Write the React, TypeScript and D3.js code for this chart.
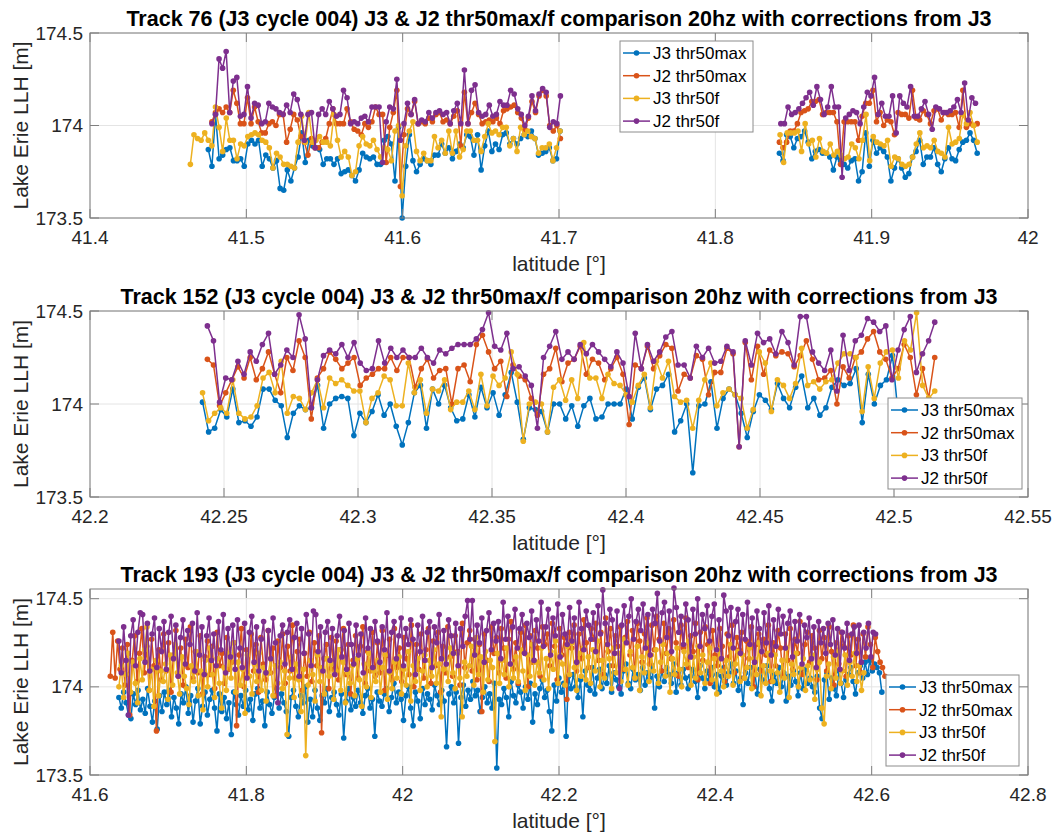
import React from "react";
import * as d3 from "d3";

const seriesNames = ["J3 thr50max", "J2 thr50max", "J3 thr50f", "J2 thr50f"];
const seriesColors = ["#0072BD", "#D95319", "#EDB120", "#7E2F8E"];

// Heights are stored in centimetres relative to 174 m.
const toMetres = (c: number) => 174 + c / 100;

// ---------------- Track 76 ----------------
const t76XTicks = [41.4, 41.5, 41.6, 41.7, 41.8, 41.9, 42];
const t76YTicks = [173.5, 174, 174.5];
// [start, end] latitude of each pass segment, per series
const t76Span_j3max = [[41.4757, 41.7007], [41.841, 41.9675]];
const t76Span_j2max = [[41.478, 41.7009], [41.841, 41.9675]];
const t76Span_j3f = [[41.4642, 41.7007], [41.8414, 41.9675]];
const t76Span_j2f = [[41.478, 41.7009], [41.8419, 41.9664]];

const t76_j3max_a = [
  -13, -22, 6, -18, -16, -13, -12, -19, -19, -18, -22, -10, -8, -10, -8, -22, -16, -18, -23, -19,
  -34, -35, -24, -30, -23, -17, -4, -20, -8, -11, -12, -13, -21, -18, -18, -21, -18, -26, -25, -24,
  -27, -30, -24, -15, -17, -18, -17, -21, -21, -8, -6, -10, -30, -1, -50,
  -22, -5, -19, -25, -21, -18, -19, -21, -16, -16, -10, -15, -12, -18, -14, -10, -12, -5, -6, -16,
  -5, -24, -11, -3, -14, -10, -13, -5, -4, -10, -7, -10, -7, -5, -6, -3, -7, -16, -15, -14,
  -12, -19, -18, -3,
];
const t76_j3max_b = [
  -15, -19, -5, -6, -12, -7, -6, -3, -9, -18, -14, -13, -15, -15, -17, -24, -17, -19, -21, -23,
  -19, -18, -30, -25, -4, -22, -8, -15, -12, -14, -17, -30, -23, -18, -23, -28, -26, -17, -14, -8,
  -21, -17, -17, -12, -21, -25, -18, -12, -18, -19, -13, -9, -8, -4, -8, -15,
];
const t76_j2max_a = [
  2, 7, 9, 7, 10, 7, 19, 12, 1, 1, 15, 1, 10, 2, -4, -4, 1, 2, 0, 6,
  6, -9, -2, 6, 3, -6, -9, -16, -7, -12, -12, -9, -7, 1, 9, 1, 1, 1, 9, 2,
  -2, -3, -5, 1, -1, 2, 10, 6, 6, -20, -1, 7, 19, -33,
  -5, 9, 6, 13, 1, 2, 1, 4, 2, 6, 7, 2, 3, 1, 5, 8, -11, 18, 1, 7,
  12, 6, 1, 2, 3, 2, 4, 1, 8, 9, 10, 11, 7, 4, -2, 4, 13, 7, 16, 19,
  16, 0, -3, 0, -7,
];
const t76_j2max_b = [
  -9, -12, -9, -3, -3, 1, 7, 8, 9, 13, 13, 14, 6, 7, 7, 7, 2, -21, 2, 2,
  2, 2, -8, 5, 12, 12, 19, 2, 7, 0, 3, 2, -5, 7, 6, 6, 4, 19, 4, 3,
  8, 6, 1, 8, 9, 3, 7, 6, 6, 7, -1, 19, -1, 1, 0, 1,
];
const t76_j3f_a = [
  -21, -5, -7, -8, -4, -8, -11, 10, -1, -14, 4, -8, -8, -18, -10, -11, -6, -5, -4, -5,
  -8, -9, -12, -23, -15, -17, -21, -21, -22, -23, -9, 5, -9, 7, -9, -8, -6, -9, -9, -11,
  6, -8, -17, -14, -17, -27, -25, -11, -6, -10, -11, -8, -13, -17, -12, -13, -19, -3, 0, -38,
  -11, -3, 2, -14, -19, -15, -19, -19, -6, -12, -8, -15, -3, -15, -3, -17, -13, -3, -3, -8,
  -8, -14, -6, 1, -4, -3, -5, -1, -1, -11, -7, -14, -1, -5, -3, -6, -7, -15, -12, -12,
  -10, -19, -12, -3,
];
const t76_j3f_b = [
  -5, -20, -4, -4, -4, -3, -14, 1, -10, -8, -17, -7, -14, -15, -10, -16, -14, -16, -18, -17,
  -10, -12, -18, -8, 6, -19, -6, -9, -10, -11, -8, -22, -17, -18, -21, -22, -21, -17, -10, -4,
  -12, -11, -12, -8, -14, -15, -17, -1, -10, -9, -7, 6, 1, 7, 0, -9,
];
const t76_j2f_a = [
  1, 6, 36, 31, 40, 7, 24, 26, 5, 6, 21, 4, 12, 11, 1, 2, 12, 10, 9, 7,
  6, 11, 7, 17, 14, 6, -8, 6, 7, -12, 6, 9, 6, 13, 9, 5, 6, 19, 15, 1,
  2, 1, 4, 5, 2, 10, 10, 10, -20, 2, 10, 9, 25, -8,
  1, 12, 6, 14, 1, 3, 2, 7, 4, 7, 8, 6, 7, 1, 8, 12, 1, 30, 1, 19,
  22, 7, 5, 6, 11, 5, 6, 13, 11, 11, 19, 17, 9, 6, 0, 5, 16, 8, 17, 20,
  18, -1, 2, 1, 16,
];
const t76_j2f_b = [
  1, 1, 10, 6, 7, 9, 12, 15, 18, 11, 21, 14, 6, 10, 21, 10, 10, -28, 4, 6,
  8, 7, 1, 10, 18, 16, 26, 6, 12, 5, 5, 16, -4, 16, 12, 10, 21, 5, 5, 9,
  13, 6, -2, 10, 9, 7, 7, 8, 10, 14, 7, 23, 3, 15, 12,
];

// ---------------- Track 152 ----------------
const t152XTicks = [42.2, 42.25, 42.3, 42.35, 42.4, 42.45, 42.5, 42.55];
const t152YTicks = [173.5, 174, 174.5];
const t152Span_j3max = [42.242, 42.5017];
const t152Span_j2max = [42.2438, 42.5152];
const t152Span_j3f = [42.242, 42.5152];
const t152Span_j2f = [42.2438, 42.5152];

const t152_j3max = [
  1, -15, -13, -3, -7, 8, -10, -9, -12, -7, 8, 8, 2, -1, -18, -5, -1, -3, -2, 10,
  -13, 0, 3, 4, 3, -17, -5, -10, -4, 5, -6, 0, -12, -22, -10, 6, 10, -13, 8, 0,
  10, -2, -9, -8, 5, -7,
  9, -2, 6, -6, 5, 17, 1, -19, -2, -3, -4, -15, 0, 0, -8, -1, -12, -1, 3, -8,
  -7, 0, 0, 0, 8, -8, 9, 14, -3, 8, 10, 16, -15, -9, 0, -37, -1, 0, 12, -13,
  3, 8, 5, -5, -18, -4, 5, 2,
  -3, 11, 3, -2, 9, 15, -2, 3, -6, -2, 9, 13, 10, 11, 19, -10, 16, 0, 10, 13,
  26, -8,
];
const t152_j2max = [
  24, 21, -1, 6, 13, 20, 14, 25, 13, 19, 28, 16, 6, 25, 18, 34, 25, -8, 14, 19,
  28, 24, 19, 22, 25, 10, 14, 16, 19, 19, 25, 18, 25, 25, 9, 19, 24, 14, 18, 19,
  0, 19, 21, 12, 32,
  37, 28, 19, 23, 4, 21, 15, 13, 3, -6, 16, 19, 30, 12, 22, 24, 31, 16, 24, 22,
  13, 19, 25, 16, -11, 21, 19, 31, 19, 26, 32, 30, 7, 16, 14, 26, 24, 5, 17, 17,
  30, 27, -23, 33, 13, 31, 16, 29,
  26, 28, 27, 20, 26, 34, 24, 13, 14, 18, 0, 20, 14, 25, 28, 35, 39, 28, 24, 14,
  19, 32, 25, 5, 19, 3, 25,
];
const t152_j3f = [
  6, -9, -5, -2, -5, 13, -5, -8, -7, -1, 14, 17, 6, 23, -5, 4, 3, -3, 6, 13,
  -2, 14, 11, 13, 10, 7, 7, -10, 3, 6, 15, 13, -1, -1, 22, 6, 13, -5, 8, 7,
  13, -3, 1, 1, 7, -3,
  16, -1, 15, 10, 14, 28, 16, -20, 0, 1, 0, -15, 9, 13, 2, 13, 3, 33, 14, 14,
  3, 16, 11, 10, 5, 1, 10, 16, -2, 23, 14, 23, 4, 1, 2, -13, 2, 13, 22, -1,
  6, 8, 5, 3, -13, -3, 28, 22,
  -4, 13, 10, 3, 11, 30, 10, 12, 8, 12, 13, 22, 27, 27, 25, -4, 20, 3, 22, 28,
  29, 14, 34, 29, 49, 10, 3, 7,
];
const t152_j2f = [
  42, 34, 1, 14, 13, 23, 16, 28, 23, 32, 38, 16, 21, 29, 25, 48, 35, -2, 13, 26,
  29, 27, 32, 25, 33, 22, 18, 19, 34, 22, 30, 25, 29, 25, 25, 30, 25, 22, 29, 27,
  30, 32, 32, 32, 35,
  40, 49, 31, 29, 38, 19, 20, 15, 10, -13, 25, 31, 39, 24, 28, 24, 32, 27, 32, 28,
  24, 20, 28, 22, 4, 38, 19, 32, 23, 28, 36, 39, 21, 21, 14, 31, 25, 30, 22, 23,
  31, 28, -23, 34, 21, 38, 33, 35,
  27, 39, 33, 21, 47, 47, 28, 22, 18, 29, 7, 37, 18, 34, 37, 46, 44, 39, 42, 13,
  29, 40, 47, 17, 27, 34, 44,
];

// ---------------- Track 193 ----------------
const t193XTicks = [41.6, 41.8, 42, 42.2, 42.4, 42.6, 42.8];
const t193YTicks = [173.5, 174, 174.5];
const t193Span_j3max = [41.637, 42.613];
const t193Span_j2max = [41.626, 42.617];
const t193Span_j3f = [41.637, 42.59];
const t193Span_j2f = [41.637, 42.605];

const t193_j3max = [
  -6, -12, -3, -9, -16, -18, -4, -10, -2, -13, -7, -15, -1, -11, -20, -8, -24, -5, -14, -3,
  -10, -2, -17, -6, -12, -21, -4, -9, 0, -15, -5, -20, -8, -1, -21, -11, -3, -16, -7, -2,
  -12, -25, -4, -14, -6, -18, -9, -27, -3, -10, -16, -5, -11, -2, -13, -7, -19, -4, -1, -12,
  -8, -22, -3, -10, -15, -6, -1, -12, -4, -9, -14, -28, -6, -2, -11, -17, -5, -9, 0, -20,
  -7, -17, -2, -12, -19, -5, -9, -1, -14, -6, -3, -10, -16, -4, -29, -8, -1, -13, -6, -11,
  -2, -9, -15, -5, -1, -12, -7, -28, -3, -8, -11, -4, -1, -14, -6, 2, -9, -3, -7, -19,
  -5, 0, -12, -22, -3, -8, -18, -1, -10, -4, -7, -13, 1, -5, -10, -2, -8, -34, -4, 0,
  -9, -3, -32, -6, 1, -11, -2, -7, 3, -5, -2, -14, -6, 0, -9, -4, -12, 2, -46, -7,
  -10, -1, -6, -17, 3, -5, -9, 1, -3, -12, 0, -7, 2, -20, -4, -10, -1, 4, -6, -2,
  -14, -25, 1, -8, 5, -3, 2, -28, 6, -1, 7, 0, -6, 4, -17, 9, 1, -2, 11, -4,
  5, 10, -1, 7, 2, 12, -3, 8, 4, 0, -4, 9, 13, 2, -1, 10, 4, 7, -2, 11,
  1, 8, 5, 12, -12, 6, 0, 9, 3, 11, 7, 2, 13, -3, 8, 1, 10, 5, -1, 6,
  10, 3, -6, 12, 5, -1, 9, 4, 11, 0, 7, -3, 6, 11, 1, 8, 13, 2, 9, -2,
  5, -10, 8, 2, 11, 0, 7, -4, 10, 4, 3, 12, -1, -8, 7, 2, 11, 0, 8, -8,
  6, 1, 9, 3, -5, 8, -1, 10, 2, 5, 0, -3, 6, -12, -18, 4, 8, -7, 5, -1,
  -5, 9, 2, -6, 4, 7, 11, 3, -4, 8, 12, 5, 14, 7, 15, 9, 13, 11, 8, -3,
];
const t193_j3f = [
  0, 12, -6, 7, 19, -3, 14, 2, -9, 16, 4, 21, 34, -2, 10, -11, 15, -5, 9, 3,
  13, -7, 18, 1, 24, 8, -4, 17, 6, -1, -10, 12, 3, 20, -5, 9, -13, 15, 0, 22,
  7, -6, 16, 2, -12, 11, -2, 19, 5, 25, -3, 14, 1, 10, -15, 18, 6, -4, 13, 3,
  19, -2, 11, -8, 8, 16, -5, 12, 2, 14, -1, 9, -27, 5, 17, -6, 13, 4, -14, 10,
  -39, 1, 15, 7, -8, 18, 3, 11, -4, 16, 6, 13, -7, 9, 21, -2, 14, -9, 8, 2,
  12, -5, 16, 4, -11, 13, 0, 19, -6, 9, 3, 15, -3, 11, 18, -7, 8, -1, 14, 5,
  17, -4, 10, 1, 20, -8, 12, 3, 16, -2, 9, 18, 0, 15, 6, 21, 2, 13, -17, 10,
  16, 3, 22, 8, -1, 19, 5, -17, 14, 6, 12, 23, 1, 28, 7, 17, -3, 20, 4, 15,
  11, -31, 19, 2, 15, 7, 22, 0, 13, 5, 17, 3, 21, 9, -2, 18, 6, 24, 1, 14,
  8, 22, 4, 16, -1, 20, 10, 26, 2, 18, 13, 1, 23, 7, 25, 11, -2, 19, 6, 22,
  4, 17, 2, 21, 9, 26, 0, 15, 5, 24, 16, -1, 22, 8, 19, 3, 27, 10, 1, 20,
  11, 5, 23, -2, 17, 8, 25, 3, 18, 9, 21, 2, 14, 24, 6, 19, -3, 16, 7, 22,
  10, 0, 20, 13, 26, 1, 17, 5, 23, 8, 18, 2, 14, 22, 4, 16, -4, 21, 9, 0,
  15, 6, 24, 1, 13, 20, 3, 18, 5, 11, 22, -1, 16, 7, 25, -5, 12, 2, 19, 9,
  3, 18, 8, -3, 15, 5, 22, -6, 13, 7, 19, 0, 11, 16, -2, 12, 4, 18, -7, 10,
  14, -12, -21, 6, 13, -1, 17, 5, 20, 2, 9, 18, 1, 14, 6, 19, 3, 12, -2, 8,
];
const t193_j2max = [
  6, 31, 5, 26, 10, 22, 1, 24, -16, 15, 29, 3, 19, 33, 8, 23, -2, 27, 12, -25,
  21, 4, 30, 9, 25, -3, 18, 32, 6, 22, 1, 27, 11, 34, 5, 20, 8, 29, -4, 17,
  26, 7, 23, -1, 31, 12, 19, 2, 28, 10, 14, 25, -22, 18, 33, 0, 21, 6, 30, 9,
  24, -3, 28, 13, 4, 32, 8, 22, -5, 26, 11, 30, 2, 23, 9, 35, 5, 20, 27, -2,
  19, 6, 31, 3, 25, 12, 29, -26, 16, 24, -1, 28, 10, 26, 4, 21, 33, 7, 24, -4,
  15, 29, 5, 23, 34, 2, 20, 9, 31, 6, 25, 8, 32, -2, 18, 27, 4, 33, 11, 22,
  3, 28, 16, 7, 35, 0, 24, 10, 30, 5, 21, 33, 2, 26, 12, 31, -3, 23, 8, 34,
  17, 6, 29, 20, 1, 36, 11, 25, 32, 9, 27, 4, 24, -14, 30, 15, 3, 34, 19, 28,
  8, 33, 22, 5, 27, 37, 10, 25, 2, 31, 20, 35, 0, 29, 14, 32, 22, 6, 34, 24,
  30, 12, 36, 23, 4, 33, 18, 28, -7, 31, 22, 35, 9, 30, 16, 38, 25, 11, 33, 27,
  36, 15, 31, 7, 39, 20, 33, 12, 29, 23, 34, 10, 28, 37, 18, 32, 5, 36, 26, 14,
  30, 39, 13, 35, 21, 40, 27, 9, 36, 19, 33, 16, 38, 25, 6, 35, 22, 39, 11, 29,
  20, 36, 4, 31, 15, 34, 24, 2, 32, 18, 12, 33, 23, 3, 30, 17, 35, 8, 28, 21,
  31, 5, 26, 16, 34, 0, 24, 30, 9, 27, 18, 35, 3, 25, 12, 32, 22, 6, 30, 15,
  33, 10, 27, 19, 37, 7, 24, 31, 14, 29, 22, 4, 32, 16, 28, 9, 34, 20, 1, 25,
  13, 31, 23, 6, 29, 18, 35, 12, 27, 8, 30, 17, 34, 24, 11, 28, 20, 14, 11, 6,
];
const t193_j2f = [
  26, 8, 34, 15, -16, 29, 38, 12, 31, 42, 41, 14, 36, 9, 30, 39, 11, 33, 20, 37,
  10, 31, 40, 16, 35, 6, 28, 38, 13, 32, 24, 36, 9, 42, 18, 34, 7, 29, 39, 15,
  30, 12, 37, 21, 41, 8, 33, 17, 35, 10, 38, 22, 11, 36, 5, 31, 40, 14, 34, 9,
  27, 37, 8, 32, 16, 39, 25, -9, 29, 35, 13, 31, 38, 10, 28, 36, 6, 33, 19, 41,
  30, 12, 43, 41, 20, 34, 9, 31, 37, 15, 33, 7, 29, 40, 17, 32, 10, 36, 24, 13,
  35, 18, 30, 8, 39, 22, 33, 11, 37, 26, 14, 34, 21, 42, 9, 31, 37, 16, 29, 39,
  12, 33, 24, 38, 27, 7, 35, 20, 40, 15, 31, 37, 11, 34, 25, 41, 16, 32, 13, 38,
  29, 19, 36, 12, 33, 23, 40, 49, 27, 49, 18, 35, 25, 39, 14, 32, 42, 21, 36, 26,
  37, 16, 48, 27, 40, 13, 34, 44, 22, 33, 41, 19, 36, 28, 43, 15, 38, 26, 48, 23,
  34, 44, 18, 39, 29, 47, 17, 41, 30, 24, 45, 26, 39, 14, 48, 33, 21, 43, 35, 27,
  42, 20, 46, 30, 55, 36, 24, 44, 38, 19, 43, -1, 35, 46, 25, 40, 50, 27, 37, 44,
  32, 47, 22, 41, 18, 44, 36, 53, 26, 42, 48, 28, 43, 20, 56, 45, 31, 40, 24, 47,
  38, 17, 44, 30, 50, 23, 41, 33, 46, 26, 40, 47, 21, 38, 16, 52, 43, 29, 45, 22,
  37, 44, 19, 41, 27, 48, 24, 39, 14, 43, 33, 20, 42, 25, 46, 18, 38, 23, 44, 30,
  40, 22, 36, 43, 17, 37, 26, 41, 13, 35, 28, 39, 16, 34, 11, 37, 25, 33, 19, 36,
  24, 38, 18, 33, 10, 31, 22, 36, 15, 30, 34, 19, 35, 14, 31, 22, 36, 17, 31, 30,
];

// ---------------- assembly ----------------
type Segment = { span: number[]; values: number[] };

const tracks = [
  {
    title: "Track 76 (J3 cycle 004) J3 & J2 thr50max/f comparison 20hz with corrections from J3",
    xDomain: [41.4, 42],
    yDomain: [173.5, 174.5],
    xTicks: t76XTicks,
    yTicks: t76YTicks,
    series: [
      [{ span: t76Span_j3max[0], values: t76_j3max_a }, { span: t76Span_j3max[1], values: t76_j3max_b }],
      [{ span: t76Span_j2max[0], values: t76_j2max_a }, { span: t76Span_j2max[1], values: t76_j2max_b }],
      [{ span: t76Span_j3f[0], values: t76_j3f_a }, { span: t76Span_j3f[1], values: t76_j3f_b }],
      [{ span: t76Span_j2f[0], values: t76_j2f_a }, { span: t76Span_j2f[1], values: t76_j2f_b }],
    ] as Segment[][],
  },
  {
    title: "Track 152 (J3 cycle 004) J3 & J2 thr50max/f comparison 20hz with corrections from J3",
    xDomain: [42.2, 42.55],
    yDomain: [173.5, 174.5],
    xTicks: t152XTicks,
    yTicks: t152YTicks,
    series: [
      [{ span: t152Span_j3max, values: t152_j3max }],
      [{ span: t152Span_j2max, values: t152_j2max }],
      [{ span: t152Span_j3f, values: t152_j3f }],
      [{ span: t152Span_j2f, values: t152_j2f }],
    ] as Segment[][],
  },
  {
    title: "Track 193 (J3 cycle 004) J3 & J2 thr50max/f comparison 20hz with corrections from J3",
    xDomain: [41.6, 42.8],
    yDomain: [173.5, 174.555],
    xTicks: t193XTicks,
    yTicks: t193YTicks,
    series: [
      [{ span: t193Span_j3max, values: t193_j3max }],
      [{ span: t193Span_j2max, values: t193_j2max }],
      [{ span: t193Span_j3f, values: t193_j3f }],
      [{ span: t193Span_j2f, values: t193_j2f }],
    ] as Segment[][],
  },
];

// ---------------- layout ----------------
const W = 1054;
const H = 834;
const AX_LEFT = 90;
const AX_RIGHT = 1028;
const panelBoxes = [
  { top: 33, bottom: 218 },
  { top: 311, bottom: 497 },
  { top: 589, bottom: 775 },
];
const legendBoxes = [
  { x: 620, y: 41, w: 133, h: 91 },
  { x: 888, y: 398, w: 134, h: 91 },
  { x: 886, y: 675, w: 133, h: 91 },
];
const FONT = "'Liberation Sans', Arial, Helvetica, sans-serif";
const TEXT = "#262626";
const AXIS = "#7f7f7f";
const GRID = "#e4e4e4";
const TICK_LEN = 9;
const LINE_W = 1.5;
const DOT_R = 2.8;

function segmentPoints(seg: Segment): [number, number][] {
  const n = seg.values.length;
  const [a, b] = seg.span;
  return seg.values.map((v, i) => [a + ((b - a) * i) / (n - 1), toMetres(v)]);
}

const fmt = (v: number) => String(Math.round(v * 1000) / 1000);

function Panel({ idx }: { idx: number }) {
  const tr = tracks[idx];
  const box = panelBoxes[idx];
  const lg = legendBoxes[idx];
  const x = d3.scaleLinear().domain(tr.xDomain).range([AX_LEFT, AX_RIGHT]);
  const y = d3.scaleLinear().domain(tr.yDomain).range([box.bottom, box.top]);
  const line = d3
    .line<[number, number]>()
    .x((d) => x(d[0]))
    .y((d) => y(d[1]));
  const midX = (AX_LEFT + AX_RIGHT) / 2;
  const midY = (box.top + box.bottom) / 2;

  return (
    <g>
      {/* grid */}
      {tr.xTicks.map((t) => (
        <line key={"gx" + t} x1={x(t)} x2={x(t)} y1={box.top} y2={box.bottom} stroke={GRID} strokeWidth={1} />
      ))}
      {tr.yTicks.map((t) => (
        <line key={"gy" + t} x1={AX_LEFT} x2={AX_RIGHT} y1={y(t)} y2={y(t)} stroke={GRID} strokeWidth={1} />
      ))}

      {/* data */}
      {tr.series.map((segs, si) => (
        <g key={"s" + si}>
          {segs.map((seg, gi) => {
            const pts = segmentPoints(seg);
            return (
              <g key={gi}>
                <path d={line(pts) || ""} fill="none" stroke={seriesColors[si]} strokeWidth={LINE_W} strokeLinejoin="round" />
                {pts.map((p, pi) => (
                  <circle key={pi} cx={x(p[0])} cy={y(p[1])} r={DOT_R} fill={seriesColors[si]} />
                ))}
              </g>
            );
          })}
        </g>
      ))}

      {/* axes box */}
      <rect x={AX_LEFT} y={box.top} width={AX_RIGHT - AX_LEFT} height={box.bottom - box.top} fill="none" stroke={AXIS} strokeWidth={1} />
      {tr.xTicks.map((t) => (
        <g key={"tx" + t}>
          <line x1={x(t)} x2={x(t)} y1={box.bottom} y2={box.bottom - TICK_LEN} stroke={AXIS} />
          <line x1={x(t)} x2={x(t)} y1={box.top} y2={box.top + TICK_LEN} stroke={AXIS} />
          <text x={x(t)} y={box.bottom + 26} textAnchor="middle" fontSize={19} fill={TEXT} fontFamily={FONT}>
            {fmt(t)}
          </text>
        </g>
      ))}
      {tr.yTicks.map((t) => (
        <g key={"ty" + t}>
          <line x1={AX_LEFT} x2={AX_LEFT + TICK_LEN} y1={y(t)} y2={y(t)} stroke={AXIS} />
          <line x1={AX_RIGHT} x2={AX_RIGHT - TICK_LEN} y1={y(t)} y2={y(t)} stroke={AXIS} />
          <text x={AX_LEFT - 7} y={y(t) + 6.5} textAnchor="end" fontSize={19} fill={TEXT} fontFamily={FONT}>
            {fmt(t)}
          </text>
        </g>
      ))}

      {/* labels */}
      <text x={midX} y={box.top - 7.5} textAnchor="middle" fontSize={21.5} fontWeight="bold" fill="#000" fontFamily={FONT}>
        {tr.title}
      </text>
      <text x={midX} y={box.bottom + 53} textAnchor="middle" fontSize={21} fill={TEXT} fontFamily={FONT}>
        latitude [°]
      </text>
      <text
        transform={`translate(27.5, ${midY}) rotate(-90)`}
        textAnchor="middle"
        fontSize={21}
        fill={TEXT}
        fontFamily={FONT}
      >
        Lake Erie LLH [m]
      </text>

      {/* legend */}
      <rect x={lg.x} y={lg.y} width={lg.w} height={lg.h} fill="#fff" stroke="#8c8c8c" strokeWidth={1} />
      {seriesNames.map((name, i) => {
        const cy = lg.y + 12 + i * 22.7;
        return (
          <g key={name}>
            <line x1={lg.x + 3} x2={lg.x + 30} y1={cy} y2={cy} stroke={seriesColors[i]} strokeWidth={LINE_W} />
            <circle cx={lg.x + 16.5} cy={cy} r={DOT_R} fill={seriesColors[i]} />
            <text x={lg.x + 33} y={cy + 6} fontSize={17} fill="#000" fontFamily={FONT}>
              {name}
            </text>
          </g>
        );
      })}
    </g>
  );
}

export default function App() {
  return (
    <svg
      width={W}
      height={H}
      viewBox={`0 0 ${W} ${H}`}
      style={{ position: "absolute", left: 0, top: 0, display: "block", background: "#fff" }}
    >
      <rect x={0} y={0} width={W} height={H} fill="#fff" />
      {tracks.map((_, i) => (
        <Panel key={i} idx={i} />
      ))}
    </svg>
  );
}
